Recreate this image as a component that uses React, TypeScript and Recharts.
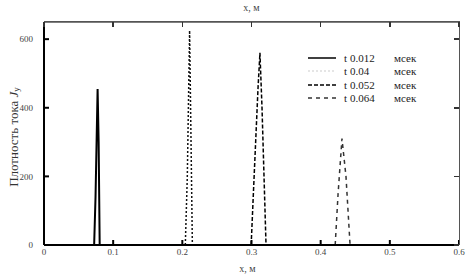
import { LineChart, Line, XAxis, YAxis, ReferenceLine } from "recharts";

const xTicks = [0, 0.1, 0.2, 0.3, 0.4, 0.5, 0.6];
const yTicks = [0, 200, 400, 600];
const X_MAX = 0.6;
const Y_MAX = 650;
const seriesNames = ["t 0.012 мсек", "t 0.04 мсек", "t 0.052 мсек", "t 0.064 мсек"];

// narrow current-density pulses
const pulseA = [
  { x: 0.0725, j: 0 },
  { x: 0.0745, j: 140 },
  { x: 0.0775, j: 455 },
  { x: 0.079, j: 300 },
  { x: 0.0805, j: 0 },
];
const pulseB = [
  { x: 0.2043, j: 0 },
  { x: 0.2072, j: 200 },
  { x: 0.2105, j: 625 },
  { x: 0.2145, j: 0 },
];
const pulseC = [
  { x: 0.2995, j: 0 },
  { x: 0.3025, j: 140 },
  { x: 0.3095, j: 460 },
  { x: 0.3122, j: 560 },
  { x: 0.3152, j: 400 },
  { x: 0.321, j: 0 },
];
const pulseD = [
  { x: 0.421, j: 0 },
  { x: 0.4252, j: 150 },
  { x: 0.4308, j: 310 },
  { x: 0.4366, j: 200 },
  { x: 0.4425, j: 0 },
];

const FONT = "'Liberation Serif', serif";

// plot box (chart margins + axis sizes)
const PLOT = { left: 44, top: 22, width: 415, height: 223 };

const styles = [
  { stroke: "#000", width: 2, dash: undefined, sample: "#000" },
  { stroke: "#111", width: 1.5, dash: "2 2", sample: "#ddd" },
  { stroke: "#000", width: 1.5, dash: "4 2", sample: "#000" },
  { stroke: "#333", width: 1.5, dash: "4 4", sample: "#333" },
];

function LegendBox() {
  return (
    <div style={{ position: "absolute", left: 308, top: 51, fontFamily: FONT, fontSize: 11, color: "#222" }}>
      {seriesNames.map((name, i) => {
        const [t, v, unit] = name.split(" ");
        return (
          <div key={name} style={{ display: "flex", alignItems: "center", height: 13.5, whiteSpace: "nowrap" }}>
            <svg width={30} height={6} style={{ marginRight: 6 }}>
              <line
                x1={0}
                y1={3}
                x2={28}
                y2={3}
                stroke={styles[i].sample}
                strokeWidth={1.5}
                strokeDasharray={styles[i].dash}
              />
            </svg>
            <span>{t} </span>
            <span style={{ display: "inline-block", width: 44, marginLeft: 3 }}>{v}</span>
            <span>{unit}</span>
          </div>
        );
      })}
    </div>
  );
}

// mirrored top / right frame with inward ticks
function Frame() {
  return (
    <div style={{ position: "absolute", left: 0, top: 0, pointerEvents: "none" }}>
      <div
        style={{
          position: "absolute",
          left: PLOT.left,
          top: PLOT.top - 1,
          width: PLOT.width + 1,
          height: PLOT.height + 1,
          borderTop: "1.5px solid #555",
          borderRight: "1.5px solid #555",
          boxSizing: "border-box",
        }}
      />
      {xTicks.map((t) => (
        <div
          key={"tx" + t}
          style={{
            position: "absolute",
            left: PLOT.left + (t / X_MAX) * PLOT.width - 0.75,
            top: PLOT.top,
            width: 1.5,
            height: 5,
            background: "#333",
          }}
        />
      ))}
      {yTicks.map((t) => (
        <div
          key={"ty" + t}
          style={{
            position: "absolute",
            left: PLOT.left + PLOT.width - 5,
            top: PLOT.top + PLOT.height - (t / Y_MAX) * PLOT.height - 0.75,
            width: 5,
            height: 1.5,
            background: "#333",
          }}
        />
      ))}
    </div>
  );
}

function YLabel() {
  const cx = 13;
  const cy = 137;
  return (
    <text
      x={cx}
      y={cy}
      textAnchor="middle"
      dominantBaseline="central"
      transform={`rotate(-90 ${cx} ${cy})`}
      fontFamily={FONT}
      fontSize={13}
      fill="#333"
    >
      Плотность тока <tspan fontStyle="italic">J</tspan>
      <tspan fontSize={9} dy={3}>y</tspan>
    </text>
  );
}

function BottomLabel(props: any) {
  const { viewBox } = props;
  return (
    <text x={viewBox.x + viewBox.width / 2 - 4} y={viewBox.y + 27} textAnchor="middle" fontFamily={FONT} fontSize={10} fill="#444">
      x, м
    </text>
  );
}

export default function App() {
  const tickStyle = { fontSize: 9, fill: "#444", fontFamily: FONT };
  const all = [pulseA, pulseB, pulseC, pulseD];
  return (
    <div style={{ position: "absolute", left: 0, top: 0, width: 471, height: 277, background: "#fff" }}>
      <LineChart width={471} height={277} margin={{ top: 22, right: 12, bottom: 2, left: 14 }}>
        <XAxis
          type="number"
          dataKey="x"
          domain={[0, X_MAX]}
          ticks={xTicks}
          tickFormatter={(v) => String(v)}
          height={30}
          stroke="#000"
          strokeWidth={2}
          tickSize={-5}
          tickMargin={9}
          tick={tickStyle}
          label={<BottomLabel />}
          allowDataOverflow
        />
        <YAxis
          type="number"
          domain={[0, Y_MAX]}
          ticks={yTicks}
          width={30}
          stroke="#000"
          strokeWidth={2}
          tickSize={-5}
          tickMargin={16}
          tick={tickStyle}
          label={<YLabel />}
          allowDataOverflow
        />
        <ReferenceLine
          y={Y_MAX}
          stroke="#555"
          strokeWidth={1.5}
          ifOverflow="visible"
          label={{ value: "x, м", position: "top", offset: 11, fontSize: 10, fill: "#444", fontFamily: FONT }}
        />
        {all.map((d, i) => (
          <Line
            key={seriesNames[i]}
            data={d}
            dataKey="j"
            name={seriesNames[i]}
            type="linear"
            stroke={styles[i].stroke}
            strokeWidth={styles[i].width}
            strokeDasharray={styles[i].dash}
            dot={false}
            isAnimationActive={false}
          />
        ))}
      </LineChart>
      <Frame />
      <LegendBox />
    </div>
  );
}
